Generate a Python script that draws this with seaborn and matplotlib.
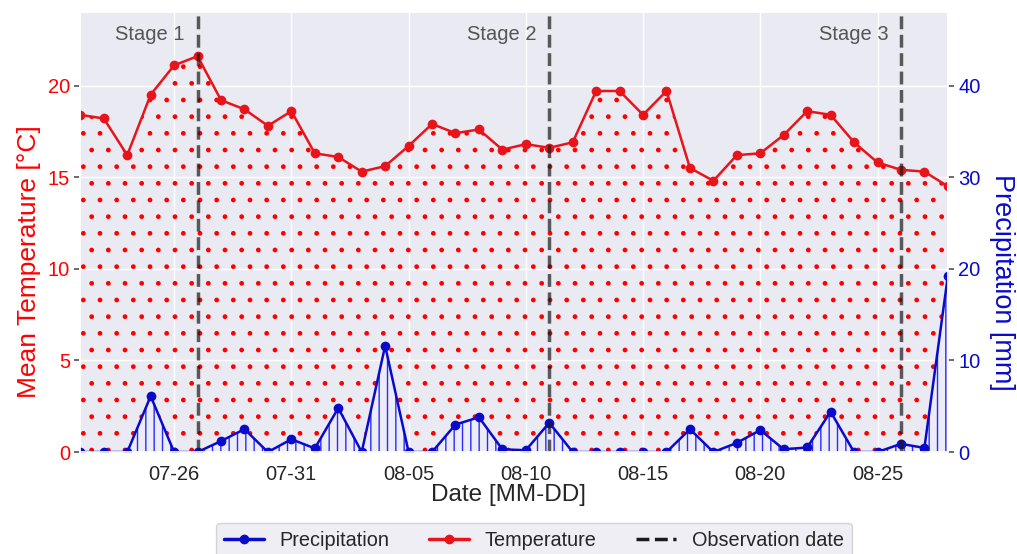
import matplotlib
matplotlib.use("Agg")
import matplotlib.pyplot as plt
import matplotlib.dates as mdates
from matplotlib.lines import Line2D
import seaborn as sns
import pandas as pd

dates = pd.date_range("2023-07-22", "2023-08-28", freq="D")
temperature = [18.4, 18.2, 16.2, 19.5, 21.1, 21.6, 19.2, 18.7, 17.8, 18.6,
               16.3, 16.1, 15.3, 15.6, 16.7, 17.9, 17.4, 17.6, 16.5, 16.8,
               16.6, 16.9, 19.7, 19.7, 18.4, 19.7, 15.5, 14.8, 16.2, 16.3,
               17.3, 18.6, 18.4, 16.9, 15.8, 15.4, 15.3, 14.5]
precipitation = [0, 0, 0, 6.1, 0, 0, 1.2, 2.5, 0, 1.4,
                 0.4, 4.8, 0, 11.6, 0, 0, 3.0, 3.8, 0.3, 0.2,
                 3.2, 0, 0, 0, 0, 0, 2.5, 0, 1.0, 2.4,
                 0.3, 0.5, 4.4, 0, 0, 0.9, 0.45, 19.2]
observation_dates = pd.to_datetime(["2023-07-27", "2023-08-11", "2023-08-26"])
stage_labels = ["Stage 1", "Stage 2", "Stage 3"]
xtick_dates = pd.date_range("2023-07-26", periods=7, freq="5D")

df = pd.DataFrame({"date": dates, "temp": temperature, "precip": precipitation})

sns.set_theme(style="darkgrid")
plt.rcParams["font.family"] = ["Liberation Sans", "DejaVu Sans"]

fig, ax = plt.subplots(figsize=(10.17, 5.54), dpi=100)
fig.subplots_adjust(left=0.079, right=0.932, top=0.978, bottom=0.184)

# Temperature
ax.fill_between(df["date"], df["temp"], 0, facecolor="none", hatch=".",
                edgecolor="red", linewidth=0)
sns.lineplot(data=df, x="date", y="temp", ax=ax, color="#e8141b", marker="o",
             markersize=7, markeredgewidth=0, linewidth=1.8, legend=False)
ax.set_ylim(0, 24)
ax.set_yticks([0, 5, 10, 15, 20])
ax.set_ylabel("Mean Temperature [°C]", color="red", fontsize=19)
ax.yaxis.set_label_coords(-0.045, 0.432)
ax.set_xlabel("Date [MM-DD]", fontsize=17.5, labelpad=0, x=0.493)
ax.tick_params(axis="y", labelcolor="red", labelsize=14.5, left=True,
               length=4, color="0.35")
ax.tick_params(axis="x", labelsize=14.5)
ax.set_xticks(xtick_dates)
ax.xaxis.set_major_formatter(mdates.DateFormatter("%m-%d"))
ax.set_xlim(dates[0], dates[-1])

# Precipitation
ax2 = ax.twinx()
ax2.grid(False)
ax2.fill_between(df["date"], df["precip"], 0, facecolor="#ececf6",
                 hatch="||", edgecolor="#2a2aff", linewidth=0)
sns.lineplot(data=df, x="date", y="precip", ax=ax2, color="#0a0acd",
             marker="o", markersize=7, markeredgewidth=0, linewidth=1.8,
             legend=False)
ax2.set_ylim(0, 48)
ax2.set_yticks([0, 10, 20, 30, 40])
ax2.set_ylabel("Precipitation [mm]", color="#0a0acd", fontsize=19.5,
               rotation=270)
ax2.yaxis.set_label_coords(1.077, 0.386)
ax2.tick_params(axis="y", labelcolor="#0a0acd", labelsize=14.5, right=True,
                length=4, color="0.35")
ax2.set_xlim(dates[0], dates[-1])

# Observation dates and stage labels
for d, lab in zip(observation_dates, stage_labels):
    ax2.axvline(d, color="k", linestyle="--", linewidth=2.5, alpha=0.7)
    ax2.text(d - pd.Timedelta(hours=13), 45.6, lab, ha="right", va="center",
             fontsize=14.5, color="#555555")

handles = [
    Line2D([0], [0], color="#0a0acd", marker="o", markersize=6, linewidth=2.5),
    Line2D([0], [0], color="#e8141b", marker="o", markersize=6, linewidth=2.5),
    Line2D([0], [0], color="k", linestyle="--", linewidth=2.5),
]
fig.legend(handles, ["Precipitation", "Temperature", "Observation date"],
           loc="upper center", bbox_to_anchor=(0.525, 0.074), ncol=3,
           fontsize=14.3, frameon=True)

fig.savefig("out.png", dpi=100)
